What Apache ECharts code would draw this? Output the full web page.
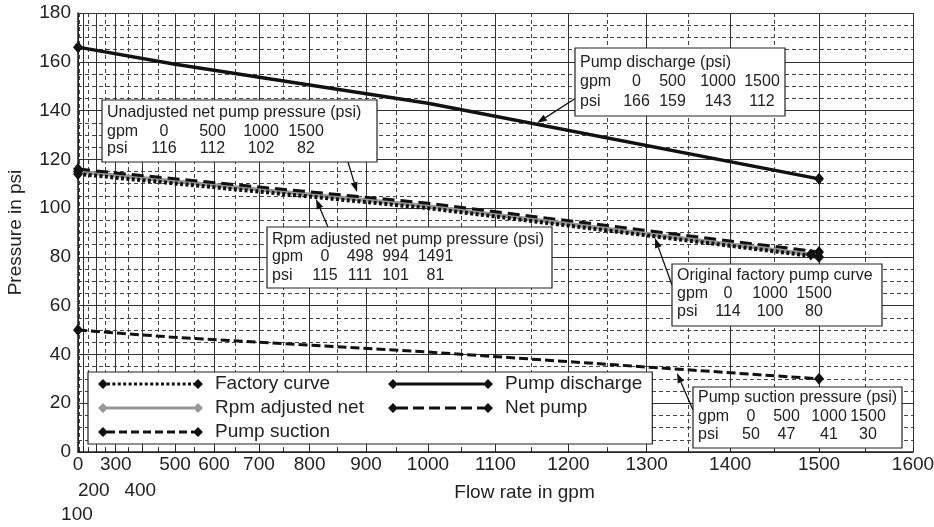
<!DOCTYPE html>
<html>
<head>
<meta charset="utf-8">
<script src="https://cdn.jsdelivr.net/npm/echarts@6/dist/echarts.min.js"></script>
<style>
  html, body { margin: 0; padding: 0; background: #fff; }
  #main { width: 934px; height: 527px; }
</style>
</head>
<body>
<div id="main"></div>
<script>
var FONT = '"Liberation Sans", Arial, Helvetica, sans-serif';

// values
var dischargeGpm = [0, 500, 1000, 1500];
var dischargePsi = [166, 159, 143, 112];
var netGpm = [0, 500, 1000, 1500];
var netPsi = [116, 112, 102, 82];
var rpmGpm = [0, 498, 994, 1491];
var rpmPsi = [115, 111, 101, 81];
var factoryGpm = [0, 1000, 1500];
var factoryPsi = [114, 100, 80];
var suctionGpm = [0, 500, 1000, 1500];
var suctionPsi = [50, 47, 41, 30];

var xMajorTicks = [0, 100, 200, 300, 400, 500, 600, 700, 800, 900, 1000, 1100, 1200, 1300, 1400, 1500, 1600];
var xMinorTicks = [50, 150, 250, 350, 450, 550, 650, 750, 850, 950, 1050, 1150, 1250, 1350, 1450, 1550];
// tick labels are staggered over three rows in the original
var xLabelsRow1 = [0, 300, 500, 600, 700, 800, 900, 1000, 1100, 1200, 1300, 1400, 1500, 1600];
var xLabelsRow2 = [200, 400];
var xLabelsRow3 = [100];

// the printed flow axis is stretched: spacing grows with gpm (about gpm^1.85)
var X_MAX = 1600, X_POW = 1.85;
function warp(g) { return X_MAX * Math.pow(g / X_MAX, X_POW); }
function unwarp(v) { return X_MAX * Math.pow(v / X_MAX, 1 / X_POW); }

function pts(gpm, psi) {
  return gpm.map(function (g, i) { return [warp(g), psi[i]]; });
}

function endMarks(n) {
  return function (val, params) {
    return (params.dataIndex === 0 || params.dataIndex === n - 1) ? [10, 12] : 0;
  };
}

// legend icon: diamond at both ends with a (dashed) bar between
function iconPath(kind) {
  var p = 'path://M0 5L5 0L10 5L5 10ZM95 5L100 0L105 5L100 10Z';
  var d = { solid: [90, 0], dot: [3, 2.4], dash: [8, 4], longdash: [11, 5] }[kind];
  var x = 9;
  while (x < 96) {
    var e = Math.min(x + d[0], 96);
    p += 'M' + x + ' 3.5L' + e + ' 3.5L' + e + ' 6.5L' + x + ' 6.5Z';
    if (d[1] === 0) break;
    x = e + d[1];
  }
  return p;
}

var notes = [
  { title: 'Pump discharge (psi)', gpm: dischargeGpm, psi: dischargePsi,
    box: [575, 48, 210, 68], ty: 63, ry: [82, 102], cx: [636.5, 672.5, 718, 762], arrow: [576, 98, 537, 123] },
  { title: 'Unadjusted net pump pressure (psi)', gpm: netGpm, psi: netPsi,
    box: [102, 100, 275, 62], ty: 113, ry: [132, 149], cx: [164, 212.5, 261, 306], arrow: [348, 162, 357, 192] },
  { title: 'Rpm adjusted net pump pressure (psi)', gpm: rpmGpm, psi: rpmPsi,
    box: [267, 227, 285, 61], ty: 240, ry: [257, 276], cx: [325, 360, 395.5, 435.5], arrow: [328, 227, 316, 199] },
  { title: 'Original factory pump curve', gpm: factoryGpm, psi: factoryPsi,
    box: [672, 264, 210, 62], ty: 276, ry: [294, 312], cx: [728, 770, 814], arrow: [672, 285, 655, 238] },
  { title: 'Pump suction pressure (psi)', gpm: suctionGpm, psi: suctionPsi,
    box: [693, 387, 209, 61], ty: 398, ry: [417, 435], cx: [751, 786.5, 829, 868], arrow: [693, 410, 677, 373] }
];

var NOTE_FONT = '16px ' + FONT;
function txt(x, y, s, align) {
  return { type: 'text', z: 100, x: x, y: y,
    style: { text: s, font: NOTE_FONT, fill: '#222', align: align, textAlign: align,
             verticalAlign: 'middle', textVerticalAlign: 'middle' } };
}
function arrow(x1, y1, x2, y2) {
  var a = Math.atan2(y2 - y1, x2 - x1), L = 10, W = 3.5;
  var bx = x2 - L * Math.cos(a), by = y2 - L * Math.sin(a);
  return [
    { type: 'line', z: 99, shape: { x1: x1, y1: y1, x2: bx, y2: by }, style: { stroke: '#111', lineWidth: 1.3 } },
    { type: 'polygon', z: 99, shape: { points: [[x2, y2],
        [bx + W * Math.sin(a), by - W * Math.cos(a)], [bx - W * Math.sin(a), by + W * Math.cos(a)]] },
      style: { fill: '#111' } }
  ];
}

var graphics = [];
notes.forEach(function (n) {
  var b = n.box;
  graphics = graphics.concat(arrow.apply(null, n.arrow));
  graphics.push({ type: 'rect', z: 100, shape: { x: b[0], y: b[1], width: b[2], height: b[3] },
    style: { fill: '#fff', stroke: '#222', lineWidth: 1.2 } });
  graphics.push(txt(b[0] + 5, n.ty, n.title, 'left'));
  graphics.push(txt(b[0] + 5, n.ry[0], 'gpm', 'left'));
  graphics.push(txt(b[0] + 5, n.ry[1], 'psi', 'left'));
  n.gpm.forEach(function (g, i) {
    graphics.push(txt(n.cx[i], n.ry[0], String(g), 'center'));
    graphics.push(txt(n.cx[i], n.ry[1], String(n.psi[i]), 'center'));
  });
});

function gpmLabel(v) { return String(Math.round(unwarp(v) / 100) * 100); }

function labelRow(values, margin, padding) {
  return {
    customValues: values.map(warp), fontSize: 19, color: '#222', lineHeight: 24,
    margin: margin, padding: padding || 0,
    showMinLabel: true, showMaxLabel: true, hideOverlap: false, formatter: gpmLabel
  };
}

var chart = echarts.init(document.getElementById('main'));
chart.setOption({
  animation: false,
  textStyle: { fontFamily: FONT },
  grid: { left: 78, right: 21, top: 13, bottom: 75, outerBoundsMode: 'none' },
  legend: {
    left: 88, top: 372, width: 560,
    orient: 'horizontal',
    itemWidth: 105, itemHeight: 10, itemGap: 2,
    padding: [1, 10, 1, 10],
    backgroundColor: '#fff', borderColor: '#222', borderWidth: 1.2,
    itemStyle: { borderWidth: 0 },
    textStyle: { fontSize: 19, color: '#222', lineHeight: 22, padding: [0, 0, 0, 7] },
    data: [
      { name: 'Factory curve', icon: iconPath('dot'), itemStyle: { color: '#111' }, textStyle: { width: 171 } },
      { name: 'Pump discharge', icon: iconPath('solid'), itemStyle: { color: '#111' }, textStyle: { width: 135 } },
      { name: 'Rpm adjusted net', icon: iconPath('solid'), itemStyle: { color: '#999' }, textStyle: { width: 171 } },
      { name: 'Net pump', icon: iconPath('longdash'), itemStyle: { color: '#111' }, textStyle: { width: 135 } },
      { name: 'Pump suction', icon: iconPath('dash'), itemStyle: { color: '#111' }, textStyle: { width: 171 } }
    ]
  },
  xAxis: [{
    type: 'value', min: 0, max: X_MAX, position: 'bottom',
    name: 'Flow rate in gpm', nameLocation: 'middle', nameGap: 31, nameMoveOverlap: false,
    nameTextStyle: { fontSize: 19, color: '#222', padding: [0, 0, 0, 58] },
    axisLine: { show: true, onZero: false, lineStyle: { color: '#222', width: 1.5 } },
    axisTick: { show: true, inside: true, length: 5, customValues: xMajorTicks.map(warp), lineStyle: { color: '#222' } },
    axisLabel: labelRow(xLabelsRow1, 1),
    splitLine: { show: true, lineStyle: { color: '#333', width: 1 } }
  }, {
    type: 'value', min: 0, max: X_MAX, position: 'bottom',
    axisLine: { show: false },
    axisLabel: labelRow(xLabelsRow2, 27, [0, 4, 0, 0]),
    axisTick: { show: true, inside: true, length: 3, customValues: xMinorTicks.map(warp), lineStyle: { color: '#222' } },
    splitLine: { show: true, lineStyle: { color: '#444', width: 1, type: [4, 3] } }
  }, {
    type: 'value', min: 0, max: X_MAX, position: 'bottom',
    axisLine: { show: false }, axisTick: { show: false }, splitLine: { show: false },
    axisLabel: labelRow(xLabelsRow3, 51, [0, 12, 0, 0])
  }],
  yAxis: {
    type: 'value', min: 0, max: 180, interval: 20,
    name: 'Pressure in psi', nameLocation: 'middle', nameGap: 53, nameRotate: 90, nameMoveOverlap: false,
    nameTextStyle: { fontSize: 19, color: '#222' },
    axisLine: { show: true, lineStyle: { color: '#222', width: 1.5 } },
    axisTick: { show: false },
    axisLabel: { fontSize: 19, color: '#222', margin: 7, showMinLabel: true, showMaxLabel: true },
    splitLine: { show: true, lineStyle: { color: '#333', width: 1 } },
    minorTick: { show: false, splitNumber: 4 },
    minorSplitLine: { show: true, lineStyle: { color: '#444', width: 1, type: [4, 3] } }
  },
  series: [
    { name: 'Rpm adjusted net', type: 'line', data: pts(rpmGpm, rpmPsi),
      symbol: 'diamond', symbolSize: endMarks(rpmGpm.length),
      itemStyle: { color: '#111' }, lineStyle: { color: '#999', width: 4 } },
    { name: 'Factory curve', type: 'line', data: pts(factoryGpm, factoryPsi),
      symbol: 'diamond', symbolSize: endMarks(factoryGpm.length),
      itemStyle: { color: '#111' }, lineStyle: { color: '#111', width: 4, type: [3, 2.4] } },
    { name: 'Net pump', type: 'line', data: pts(netGpm, netPsi),
      symbol: 'diamond', symbolSize: endMarks(netGpm.length),
      itemStyle: { color: '#111' }, lineStyle: { color: '#111', width: 3, type: [12, 6] } },
    { name: 'Pump discharge', type: 'line', data: pts(dischargeGpm, dischargePsi),
      symbol: 'diamond', symbolSize: endMarks(dischargeGpm.length),
      itemStyle: { color: '#111' }, lineStyle: { color: '#111', width: 3.5 } },
    { name: 'Pump suction', type: 'line', data: pts(suctionGpm, suctionPsi),
      symbol: 'diamond', symbolSize: endMarks(suctionGpm.length),
      itemStyle: { color: '#111' }, lineStyle: { color: '#111', width: 3, type: [9, 4] } }
  ],
  graphic: graphics
});
</script>
</body>
</html>
